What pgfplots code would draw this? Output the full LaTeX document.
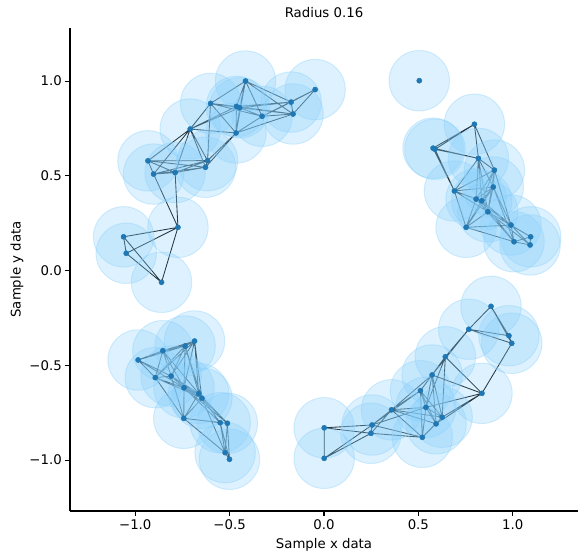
\documentclass[border=0pt]{standalone}
\usepackage{pgfplots}
\pgfplotsset{compat=1.18}
\usepackage{pgfplotstable}
\usepackage{fontspec}
\setmainfont{DejaVu Sans}
\definecolor{cfill}{RGB}{135,206,250}
\definecolor{cedge}{RGB}{135,206,250}
\definecolor{c0}{HTML}{1F77B4}
\pgfdeclareplotmark{bigcirc}{\pgfpathcircle{\pgfpointorigin}{30.2pt}\pgfusepathqfillstroke}
\pgfplotstableread{
x y
-0.416 1.000
-0.047 0.955
-0.601 0.882
-0.464 0.866
-0.447 0.859
-0.174 0.889
-0.164 0.826
-0.328 0.814
-0.709 0.747
-0.466 0.726
-0.933 0.579
-0.617 0.580
-0.903 0.509
-0.789 0.517
-0.628 0.545
-0.774 0.228
-1.062 0.178
-1.048 0.091
-0.861 -0.062
-0.686 -0.372
-0.736 -0.398
-0.854 -0.423
-0.985 -0.472
-0.894 -0.565
-0.810 -0.557
-0.742 -0.619
-0.664 -0.649
-0.647 -0.674
-0.743 -0.780
-0.550 -0.803
-0.512 -0.806
-0.524 -0.961
-0.501 -0.996
0.001 -0.830
0.001 -0.991
0.255 -0.815
0.249 -0.859
0.358 -0.735
0.511 -0.634
0.540 -0.722
0.573 -0.551
0.626 -0.774
0.594 -0.809
0.521 -0.880
0.643 -0.455
0.837 -0.648
0.767 -0.310
0.885 -0.189
0.980 -0.344
0.995 -0.384
0.505 1.002
0.797 0.772
0.588 0.640
0.578 0.646
0.818 0.592
0.903 0.530
0.897 0.441
0.691 0.420
0.806 0.377
0.836 0.368
0.868 0.310
0.753 0.228
0.991 0.240
1.095 0.178
1.007 0.152
1.092 0.135
}\pts
\pgfplotstablegetrowsof{\pts}
\pgfmathtruncatemacro\Nm{\pgfplotsretval-1}
\pgfplotsforeachungrouped \k in {0,...,\Nm}{%
  \pgfplotstablegetelem{\k}{x}\of\pts
  \expandafter\xdef\csname px\k\endcsname{\pgfplotsretval}%
  \pgfplotstablegetelem{\k}{y}\of\pts
  \expandafter\xdef\csname py\k\endcsname{\pgfplotsretval}%
}
\gdef\edges{}
\foreach \i in {0,...,\Nm}{%
  \foreach \j in {\i,...,\Nm}{%
    \ifnum\j>\i\relax
      \edef\xa{\csname px\i\endcsname}\edef\ya{\csname py\i\endcsname}%
      \edef\xb{\csname px\j\endcsname}\edef\yb{\csname py\j\endcsname}%
      \pgfmathparse{((\xa)-(\xb))^2+((\ya)-(\yb))^2}%
      \ifdim\pgfmathresult pt<0.1024pt\relax
        \xdef\edges{\edges(\xa,\ya)(\xb,\yb)(nan,nan)}%
      \fi
    \fi
  }%
}
\edef\drawedges{\noexpand\addplot[black, line width=0.85pt, forget plot, no markers] coordinates {\edges};}
\begin{document}
\begin{tikzpicture}
\begin{axis}[
  width=508pt, height=483pt, scale only axis,
  xmin=-1.346, xmax=1.346, ymin=-1.269, ymax=1.280,
  axis lines*=left,
  axis line style={-, line width=1.05pt},
  tick align=outside, major tick length=4.7pt,
  tick style={black, line width=1.05pt},
  xtick={-1,-0.5,0,0.5,1}, ytick={-1,-0.5,0,0.5,1},
  xticklabels={−1.0,−0.5,0.0,0.5,1.0},
  yticklabels={−1.0,−0.5,0.0,0.5,1.0},
  ticklabel style={font=\fontsize{13.3}{16}\selectfont},
  xlabel={Sample x data}, ylabel={Sample y data},
  label style={font=\fontsize{13.3}{16}\selectfont},
  xlabel style={at={(axis description cs:0.5,-0.0704)}, anchor=center},
  ylabel style={at={(axis description cs:-0.1043,0.5)}, anchor=center},
  title={Radius 0.16},
  title style={font=\fontsize{13.3}{16}\selectfont, at={(axis description cs:0.5,1.0186)}, anchor=center, yshift=0pt},
  unbounded coords=jump,
]
\addplot[only marks, mark=bigcirc, mark options={fill=cfill, draw=cedge, fill opacity=0.28, draw opacity=0.35, line width=1pt}] table[x=x,y=y] {\pts};
\drawedges
\addplot[only marks, mark=*, mark size=2.6pt, color=c0, mark options={draw=c0, fill=c0}] table[x=x,y=y] {\pts};
\end{axis}
\path (current axis.south west) ++(-70pt,-44pt) coordinate (bl);
\path (current axis.north east) ++(1pt,28pt) coordinate (tr);
\pgfresetboundingbox
\path[use as bounding box] (bl) rectangle (tr);
\end{tikzpicture}
\end{document}
